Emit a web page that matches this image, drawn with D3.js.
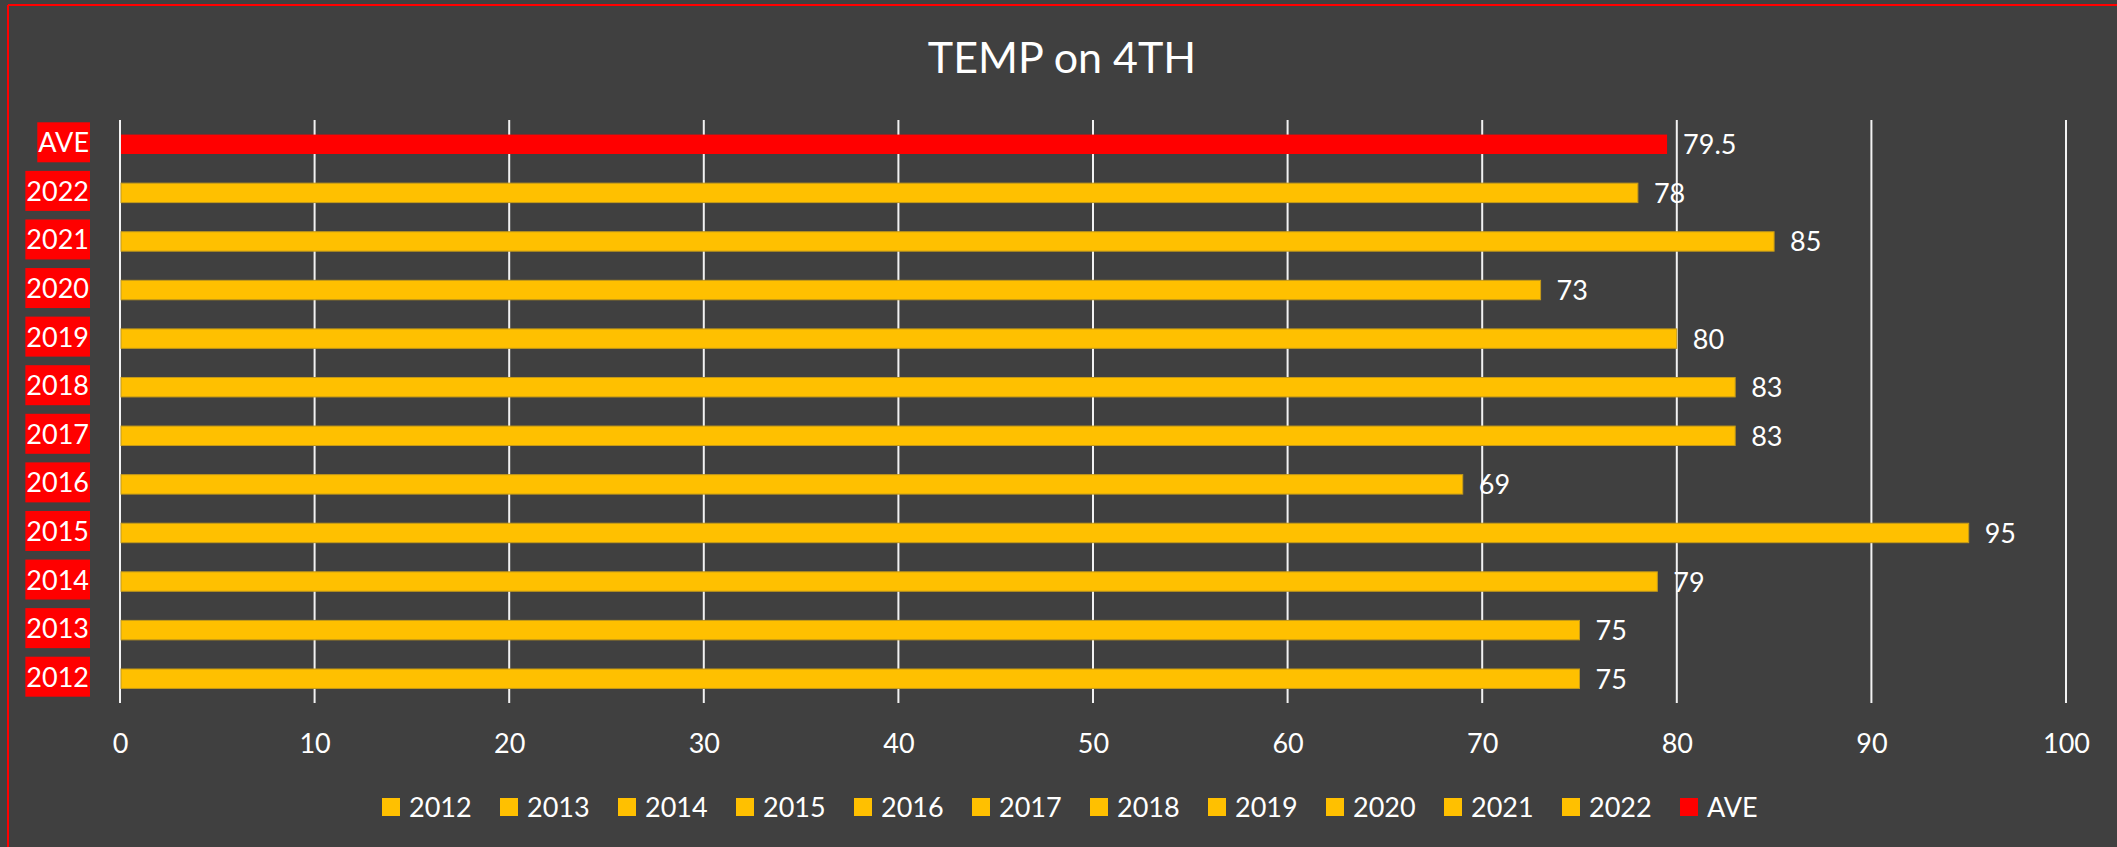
<!DOCTYPE html>
<html>
<head>
<meta charset="utf-8">
<script src="https://cdn.jsdelivr.net/npm/d3@7"></script>
<style>
  html, body { margin: 0; padding: 0; background: #404040; }
  svg { display: block; font-family: Lato, "Open Sans", sans-serif; }
</style>
</head>
<body>
<svg id="chart" width="2117" height="847"></svg>
<script>
// categories, bottom to top as in the picture
const years = ["2012", "2013", "2014", "2015", "2016", "2017", "2018", "2019", "2020", "2021", "2022", "AVE"];
const temps = [75, 75, 79, 95, 69, 83, 83, 80, 73, 85, 78, 79.5];
const xTicks = [0, 10, 20, 30, 40, 50, 60, 70, 80, 90, 100];

const yellow = "#ffc000";
const red = "#ff0000";
const colorOf = y => y === "AVE" ? red : yellow;

const W = 2117, H = 847;
const svg = d3.select("#chart");

svg.append("rect").attr("width", W).attr("height", H).attr("fill", "#404040");

// red border only on top and left like the capture
svg.append("line").attr("x1", 8).attr("x2", W).attr("y1", 5).attr("y2", 5)
  .attr("stroke", red).attr("stroke-width", 2);
svg.append("line").attr("x1", 8).attr("x2", 8).attr("y1", 5).attr("y2", H)
  .attr("stroke", red).attr("stroke-width", 2);

svg.append("text")
  .attr("x", 1062).attr("y", 73)
  .attr("text-anchor", "middle")
  .attr("fill", "#fff")
  .attr("font-size", 43)
  .text("TEMP on 4TH");

const x = d3.scaleLinear().domain([0, 100]).range([120, 2066]);
const y = d3.scaleBand().domain(years.slice().reverse()).range([120, 703]).paddingInner(0.6).paddingOuter(0.3);

// gridlines
svg.append("g")
  .selectAll("line")
  .data(xTicks)
  .join("line")
  .attr("x1", d => x(d)).attr("x2", d => x(d))
  .attr("y1", 120).attr("y2", 703)
  .attr("stroke", "#f2f2f2").attr("stroke-width", 2);

// x axis labels
const xAxis = d3.axisBottom(x).tickValues(xTicks).tickSize(0).tickPadding(0);
const gx = svg.append("g").attr("transform", "translate(0,734)").call(xAxis);
gx.select(".domain").remove();
gx.selectAll("text")
  .attr("fill", "#fff")
  .attr("font-size", 27)
  .attr("font-family", "Lato, sans-serif")
  .attr("dy", "0.72em");

// bars
svg.append("g")
  .selectAll("rect")
  .data(years)
  .join("rect")
  .attr("x", x(0) + 1)
  .attr("y", d => y(d))
  .attr("width", (d, i) => x(temps[i]) - x(0) - 1)
  .attr("height", y.bandwidth())
  .attr("fill", d => colorOf(d))
  .attr("stroke", d => d === "AVE" ? "none" : "#c49a1a")
  .attr("stroke-width", 1);

// value labels
svg.append("g")
  .selectAll("text")
  .data(years)
  .join("text")
  .attr("x", (d, i) => x(temps[i]) + 16)
  .attr("y", d => y(d) + y.bandwidth() / 2 + 10)
  .attr("fill", "#fff")
  .attr("font-size", 27)
  .text((d, i) => temps[i]);

// category labels with red boxes
const lab = svg.append("g")
  .selectAll("g")
  .data(years)
  .join("g")
  .attr("transform", d => "translate(90," + (y(d) + y.bandwidth() / 2 - 2) + ")");
lab.append("text")
  .attr("x", -1)
  .attr("y", 10)
  .attr("text-anchor", "end")
  .attr("fill", "#fff")
  .attr("font-size", 27)
  .text(d => d);
lab.each(function () {
  const g = d3.select(this);
  const bb = g.select("text").node().getBBox();
  g.insert("rect", "text")
    .attr("x", bb.x - 1).attr("y", -20)
    .attr("width", bb.width + 2).attr("height", 40)
    .attr("fill", red);
});

// legend
const leg = svg.append("g")
  .selectAll("g")
  .data(years)
  .join("g")
  .attr("transform", (d, i) => "translate(" + (382 + i * 118) + ",798)");
leg.append("rect")
  .attr("width", 18).attr("height", 18)
  .attr("fill", d => colorOf(d));
leg.append("text")
  .attr("x", 27).attr("y", 19)
  .attr("fill", "#fff")
  .attr("font-size", 27)
  .text(d => d);
</script>
</body>
</html>
